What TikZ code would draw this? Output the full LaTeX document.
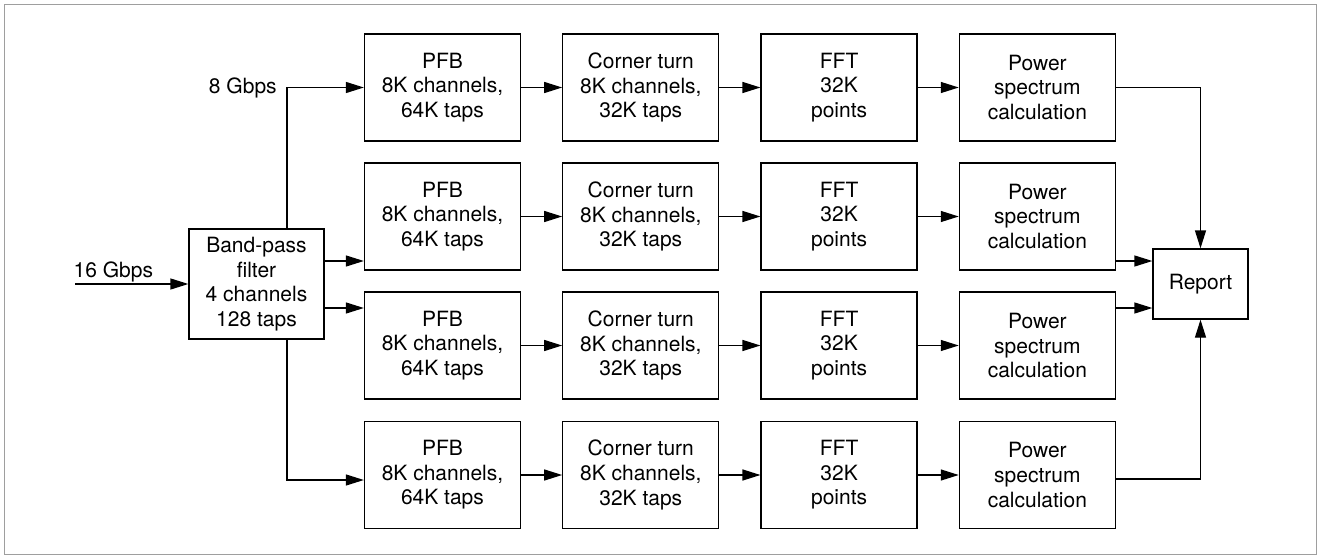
\documentclass[tikz,border=0pt]{standalone}
\usepackage{fontspec}
\setmainfont{TeX Gyre Heros}
\usetikzlibrary{arrows.meta, positioning, calc}

\begin{document}
\begin{tikzpicture}[x=0.5pt, y=-0.5pt, node distance=20.5pt, line width=0.65pt,
  >={Triangle[length=9pt, width=5.5pt]},
  every node/.style={font=\fontsize{10.5}{12.3}\selectfont},
  block/.style={draw, minimum width=78pt, minimum height=53.5pt, align=center, inner sep=2pt}]
  \useasboundingbox (0,0) rectangle (1319,557);
  \draw[black!38, line width=0.5pt] (4,4) rectangle (1316,554);

  \node (bpf) [draw, minimum width=67.5pt, minimum height=55pt, align=center, inner sep=2pt] at (256.5,284) {Band-pass\\filter\\4 channels\\128 taps};
  \node (report) [draw, minimum width=47.5pt, minimum height=35pt] at (1200.5,284) {Report};

  % four identical processing chains
  \foreach \r/\y in {1/87.5, 2/216.5, 3/345.5, 4/475} {
    \node (pfb\r) [block] at (442.5,\y) {PFB\\8K channels,\\64K taps};
    \node (turn\r) [block, right=of pfb\r] {Corner turn\\8K channels,\\32K taps};
    \node (fft\r) [block, right=of turn\r] {FFT\\32K\\points};
    \node (power\r) [block, right=of fft\r] {Power\\spectrum\\calculation};
    \draw[->] (pfb\r) -- (turn\r);
    \draw[->] (turn\r) -- (fft\r);
    \draw[->] (fft\r) -- (power\r);
  }

  % input and split
  \coordinate (in) at (75,284);
  \draw[->] (in) -- (bpf.west) node (inrate) [pos=0, above right, inner sep=0.5pt, xshift=-1.5pt] {16 Gbps};
  \coordinate (split) at (287,284);
  \coordinate (up) at ([yshift=11.5pt]bpf.east);
  \coordinate (down) at ([yshift=-12pt]bpf.east);
  \draw[->] (split |- bpf.north) |- (pfb1);
  \node (rate) [left=1.5pt] at (split |- pfb1) {8 Gbps};
  \draw[->] (up) -- (up -| pfb2.west);
  \draw[->] (down) -- (down -| pfb3.west);
  \draw[->] (split |- bpf.south) |- ([yshift=-2.5pt]pfb4.west);

  % outputs to report
  \draw[->] (power1) -| (report);
  \draw[->] (up -| power2.east) -- (up -| report.west);
  \draw[->] (down -| power3.east) -- (down -| report.west);
  \draw[->] ([yshift=-2pt]power4.east) -| (report);
\end{tikzpicture}
\end{document}
